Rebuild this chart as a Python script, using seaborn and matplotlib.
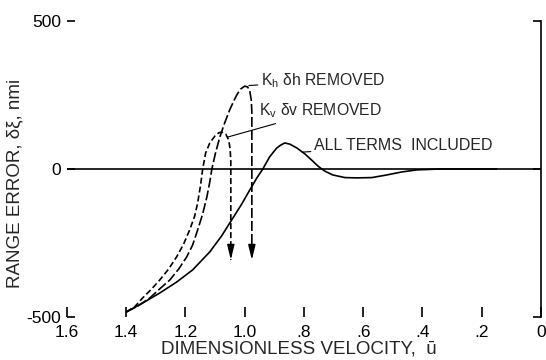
import numpy as np
import pandas as pd
import seaborn as sns
import matplotlib
matplotlib.use("Agg")
import matplotlib.pyplot as plt

# curve values (u decreasing, range error in nmi)
all_u = [1.40, 1.345, 1.287, 1.23, 1.176, 1.118, 1.078, 1.044, 1.01, 0.983, 0.959, 0.939,
         0.916, 0.892, 0.878, 0.865, 0.848, 0.824, 0.797, 0.774, 0.753, 0.73, 0.703,
         0.662, 0.622, 0.571, 0.52, 0.47, 0.419, 0.341, 0.25, 0.15]
all_err = [-483, -453, -419, -382, -341, -280, -226, -172, -118, -71, -30, 0,
           41, 71, 81, 88, 84, 71, 51, 30, 10, -7, -20,
           -29, -30, -29, -20, -10, -3, 0, 0, 0]

kv_u = [1.40, 1.372, 1.345, 1.314, 1.287, 1.257, 1.23, 1.206, 1.186, 1.169, 1.159, 1.149,
        1.142, 1.132, 1.118, 1.101, 1.088, 1.078, 1.064, 1.054, 1.049, 1.047, 1.047]
kv_err = [-483, -466, -436, -405, -375, -338, -297, -253, -206, -159, -115, -54,
          0, 54, 88, 111, 122, 125, 118, 98, 64, 24, -307]

kh_u = [1.40, 1.361, 1.321, 1.287, 1.253, 1.223, 1.196, 1.176, 1.159, 1.142, 1.128, 1.118,
        1.111, 1.098, 1.084, 1.068, 1.051, 1.037, 1.027, 1.014, 1.0, 0.99, 0.983,
        0.978, 0.976, 0.976]
kh_err = [-483, -463, -436, -405, -375, -338, -297, -257, -206, -152, -95, -44,
          0, 57, 108, 155, 199, 230, 250, 270, 280, 277, 263,
          233, 193, -307]

xticks = [1.6, 1.4, 1.2, 1.0, 0.8, 0.6, 0.4, 0.2, 0.0]
xtick_labels = ["1.6", "1.4", "1.2", "1.0", ".8", ".6", ".4", ".2", "0"]
yticks = [-500, 0, 500]
ytick_labels = ["-500", "0", "500"]

sns.set_style("white")
plt.rcParams["font.family"] = ["Liberation Sans", "DejaVu Sans"]
plt.rcParams["mathtext.fontset"] = "custom"
plt.rcParams["mathtext.rm"] = "Liberation Sans"

df = pd.concat([
    pd.DataFrame({"u": all_u, "err": all_err, "curve": "all"}),
    pd.DataFrame({"u": kv_u, "err": kv_err, "curve": "kv"}),
    pd.DataFrame({"u": kh_u, "err": kh_err, "curve": "kh"}),
], ignore_index=True)

fig = plt.figure(figsize=(5.46, 3.6), dpi=100)
ax = fig.add_axes([0.1227, 0.1194, 0.8681, 0.8223])

sns.lineplot(data=df, x="u", y="err", hue="curve", style="curve",
             palette={"all": "black", "kv": "black", "kh": "black"},
             dashes={"all": "", "kv": (3.6, 1.8), "kh": (6, 1.8)},
             sort=False, estimator=None, legend=False, lw=1.2, ax=ax)

ax.axhline(0, color="black", lw=1.2)

# arrow heads at the end of the two dashed curves
for uu, ee in [(kv_u, kv_err), (kh_u, kh_err)]:
    ax.annotate("", xy=(uu[-1], ee[-1]), xytext=(0, 9), textcoords="offset points",
                arrowprops=dict(arrowstyle="-|>,head_length=0.9,head_width=0.22",
                                color="black", lw=1.0, shrinkA=0, shrinkB=0))

# labels with leader lines
ax.annotate(r"$\mathrm{K_h}$ δh REMOVED", xy=(0.986, 282), xytext=(0.945, 297),
            ha="left", va="center", fontsize=11.3,
            arrowprops=dict(arrowstyle="-", color="black", lw=0.8, shrinkA=0, shrinkB=0))
ax.annotate(r"$\mathrm{K_v}$ δv REMOVED", xy=(1.057, 108), xytext=(0.952, 196),
            ha="left", va="center", fontsize=11.3,
            arrowprops=dict(arrowstyle="-", color="black", lw=0.8, shrinkA=0, shrinkB=0))
ax.annotate("ALL TERMS  INCLUDED", xy=(0.807, 57), xytext=(0.766, 78),
            ha="left", va="center", fontsize=11.5,
            arrowprops=dict(arrowstyle="-", color="black", lw=0.8, shrinkA=0, shrinkB=0))

ax.set_xlim(1.6, 0)
ax.set_ylim(-500, 500)
ax.set_xticks(xticks)
ax.set_xticklabels(xtick_labels)
ax.set_yticks(yticks)
ax.set_yticklabels(ytick_labels)
ax.set_xlabel("")
ax.set_ylabel("")

for side in ["left", "top", "bottom"]:
    ax.spines[side].set_visible(False)
ax.spines["right"].set_color("black")
ax.spines["right"].set_linewidth(1.2)

ax.tick_params(axis="x", direction="in", length=7, width=1.2, pad=6,
               labelsize=12.5, colors="black", bottom=True)
ax.tick_params(axis="y", direction="in", length=6, width=1.2, pad=4,
               labelsize=12.5, colors="black", left=True, right=True, labelright=False)

fig.text(15 / 546, 0.49, "RANGE ERROR, δξ, nmi", rotation=90,
         ha="center", va="center", fontsize=13.5)
fig.text(299 / 546, 1 - 349 / 360, "DIMENSIONLESS VELOCITY,  ū",
         ha="center", va="center", fontsize=13.5)

fig.savefig("out.png", dpi=100)
